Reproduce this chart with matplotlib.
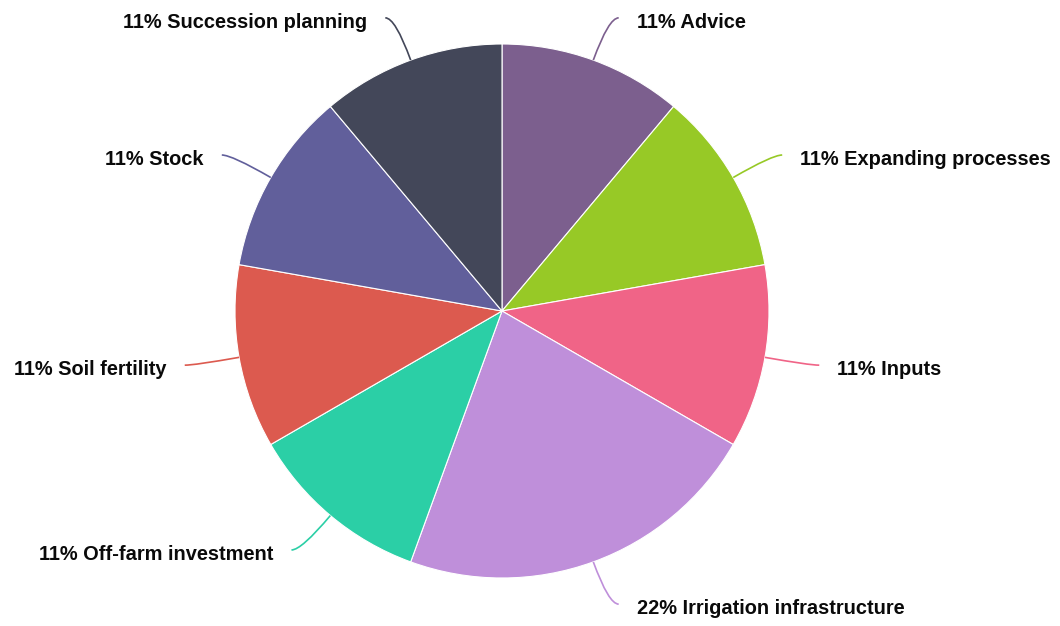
import numpy as np
import matplotlib
matplotlib.use("Agg")
import matplotlib.pyplot as plt
from matplotlib.path import Path
from matplotlib.patches import PathPatch

categories = ["Advice", "Expanding processes", "Inputs", "Irrigation infrastructure",
              "Off-farm investment", "Soil fertility", "Stock", "Succession planning"]
values = [1, 1, 1, 2, 1, 1, 1, 1]
colors = ["#7c5f8e", "#97c926", "#f06487", "#bf8fda", "#2bcfa6", "#dc5a4f", "#615f9b", "#434759"]

W, H = 1060, 626
fig = plt.figure(figsize=(W / 100, H / 100), dpi=100)
ax = fig.add_axes([0, 0, 1, 1])
ax.set_xlim(0, W)
ax.set_ylim(0, H)
ax.set_aspect("equal")
ax.axis("off")

cx, cy, R = 502, H - 311, 267
wedges, _ = ax.pie(values, colors=colors, startangle=90, counterclock=False,
                   center=(cx, cy), radius=R,
                   wedgeprops=dict(edgecolor="white", linewidth=0.8))
ax.set_xlim(0, W)
ax.set_ylim(0, H)

total = sum(values)
for w, name, v, c in zip(wedges, categories, values, colors):
    ang = np.deg2rad((w.theta1 + w.theta2) / 2)
    dx, dy = np.cos(ang), np.sin(ang)
    p0 = (cx + R * dx, cy + R * dy)
    p1 = (cx + (R + 45) * dx, cy + (R + 45) * dy)
    sgn = 1 if dx >= 0 else -1
    p2 = (p1[0] + sgn * 10, p1[1])
    path = Path([p0, p1, p2], [Path.MOVETO, Path.CURVE3, Path.CURVE3])
    ax.add_patch(PathPatch(path, facecolor="none", edgecolor=c, lw=1.2))
    pct = round(v / total * 100)
    ax.text(p2[0] + sgn * 18, p2[1] - 4.5, f"{pct}% {name}",
            ha="left" if sgn > 0 else "right", va="center",
            fontsize=14.4, fontweight="bold", family="Liberation Sans", color="#0a0a0a")

fig.savefig("out.png", dpi=100)
